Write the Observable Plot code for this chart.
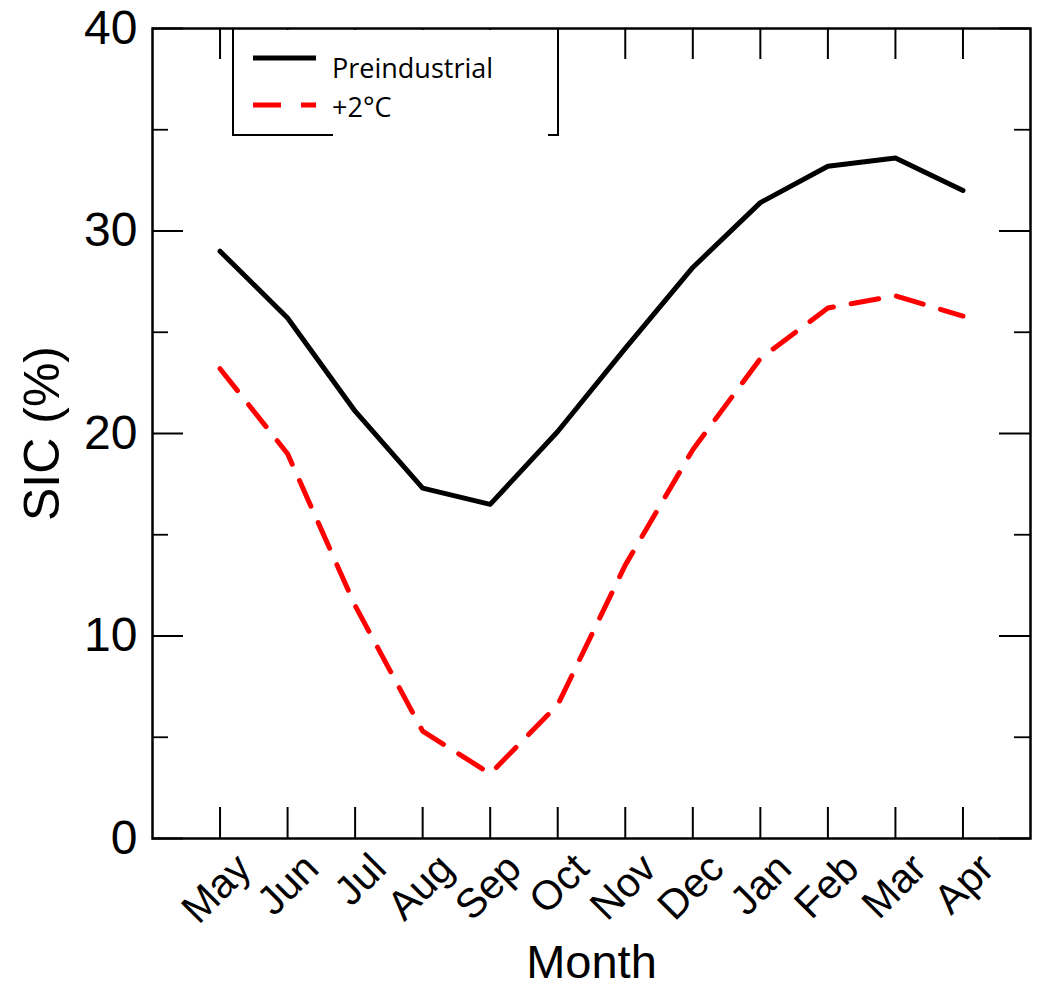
<!DOCTYPE html>
<html><head><meta charset="utf-8">
<script src="https://cdn.jsdelivr.net/npm/d3@7"></script>
<script src="https://cdn.jsdelivr.net/npm/@observablehq/plot@0.6"></script>
<style>
body{margin:0;background:#fff;}
#wrap{position:relative;width:1038px;height:986px;}
#legend{position:absolute;left:0;top:0;pointer-events:none;}
</style></head><body><div id="wrap"></div>
<script>
// ---- data ----
const months = ["May","Jun","Jul","Aug","Sep","Oct","Nov","Dec","Jan","Feb","Mar","Apr"];
const preindustrial = [29.0,25.7,21.1,17.3,16.5,20.1,24.2,28.2,31.4,33.2,33.6,32.0];
const plus2C = [23.2,19.0,11.5,5.3,3.2,6.6,13.5,19.2,23.7,26.2,26.8,25.8];
const seriesNames = ["Preindustrial","+2°C"];
const yMajorTicks = [0,10,20,30,40];
const yMinorTicks = [5,15,25,35];
const xLabel = "Month";
const yLabel = "SIC (%)";

// ---- layout ----
const W = 1038, H = 986, mL = 152, mR = 8, mT = 28, mB = 148;
const fw = W - mL - mR, fh = H - mT - mB;
const idx = months.map((m, i) => i + 1);
const monthRows = months.map((m, i) => ({i: i + 1, month: m}));
const preRows = preindustrial.map((v, i) => ({i: i + 1, value: v}));
const p2Rows = plus2C.map((v, i) => ({i: i + 1, value: v}));
const font = "'Liberation Sans', Arial, Helvetica, sans-serif";

const chart = Plot.plot({
  width: W, height: H,
  marginLeft: mL, marginRight: mR, marginTop: mT, marginBottom: mB,
  style: {fontFamily: font, color: "#000", background: "#fff", overflow: "visible"},
  x: {domain: [0, 13], axis: null},
  y: {domain: [0, 40]},
  marks: [
    Plot.tickY(yMajorTicks, {y: d => d, insetRight: fw - 31, stroke: "#000", strokeWidth: 2}),
    Plot.tickY(yMajorTicks, {y: d => d, insetLeft: fw - 31, stroke: "#000", strokeWidth: 2}),
    Plot.tickY(yMinorTicks, {y: d => d, insetRight: fw - 16, stroke: "#000", strokeWidth: 1.8}),
    Plot.tickY(yMinorTicks, {y: d => d, insetLeft: fw - 16, stroke: "#000", strokeWidth: 1.8}),
    Plot.tickX(idx, {x: d => d, insetTop: fh - 31, stroke: "#000", strokeWidth: 2}),
    Plot.tickX(idx, {x: d => d, insetBottom: fh - 31, stroke: "#000", strokeWidth: 2}),
    Plot.line(preRows, {x: "i", y: "value", stroke: "#000", strokeWidth: 5}),
    Plot.line(p2Rows, {x: "i", y: "value", stroke: "#ff0000", strokeWidth: 5, strokeDasharray: "28,18"}),
    Plot.frame({stroke: "#000", strokeWidth: 2.5}),
    Plot.axisY(yMajorTicks, {tickSize: 0, tickPadding: 15, fontSize: 48, label: null}),
    Plot.text([yLabel], {frameAnchor: "left", rotate: -90, textAnchor: "middle", lineAnchor: "bottom", dx: -94, fontSize: 50}),
    Plot.text(monthRows, {x: "i", text: "month", frameAnchor: "bottom", rotate: -45, textAnchor: "end", lineAnchor: "middle", dx: 24, dy: 23, fontSize: 41}),
    Plot.text([xLabel], {frameAnchor: "bottom", lineAnchor: "bottom", dy: 139, fontSize: 47})
  ]
});
document.getElementById("wrap").appendChild(chart);

// ---- legend overlay (pasted box, as in the reference) ----
const lg = d3.select("#wrap").append("svg").attr("id", "legend")
  .attr("width", W).attr("height", H);
lg.append("rect").attr("x", 234).attr("y", 30).attr("width", 323).attr("height", 104).attr("fill", "#fff");
lg.append("path").attr("d", "M233,29V135H333").attr("fill", "none").attr("stroke", "#000").attr("stroke-width", 2);
lg.append("path").attr("d", "M558,29V135H548").attr("fill", "none").attr("stroke", "#000").attr("stroke-width", 2);
const styles = [{stroke: "#000", dash: null, y: 58, ty: 78}, {stroke: "#ff0000", dash: "28,20", y: 105, ty: 117}];
seriesNames.forEach((name, k) => {
  const s = styles[k];
  lg.append("line").attr("x1", 253).attr("x2", 316).attr("y1", s.y).attr("y2", s.y)
    .attr("stroke", s.stroke).attr("stroke-width", 5).attr("stroke-dasharray", s.dash);
  lg.append("text").attr("x", 332).attr("y", s.ty).text(name)
    .attr("font-family", "'Open Sans', 'Noto Sans', sans-serif").attr("font-size", 27).attr("fill", "#000");
});
</script></body></html>
